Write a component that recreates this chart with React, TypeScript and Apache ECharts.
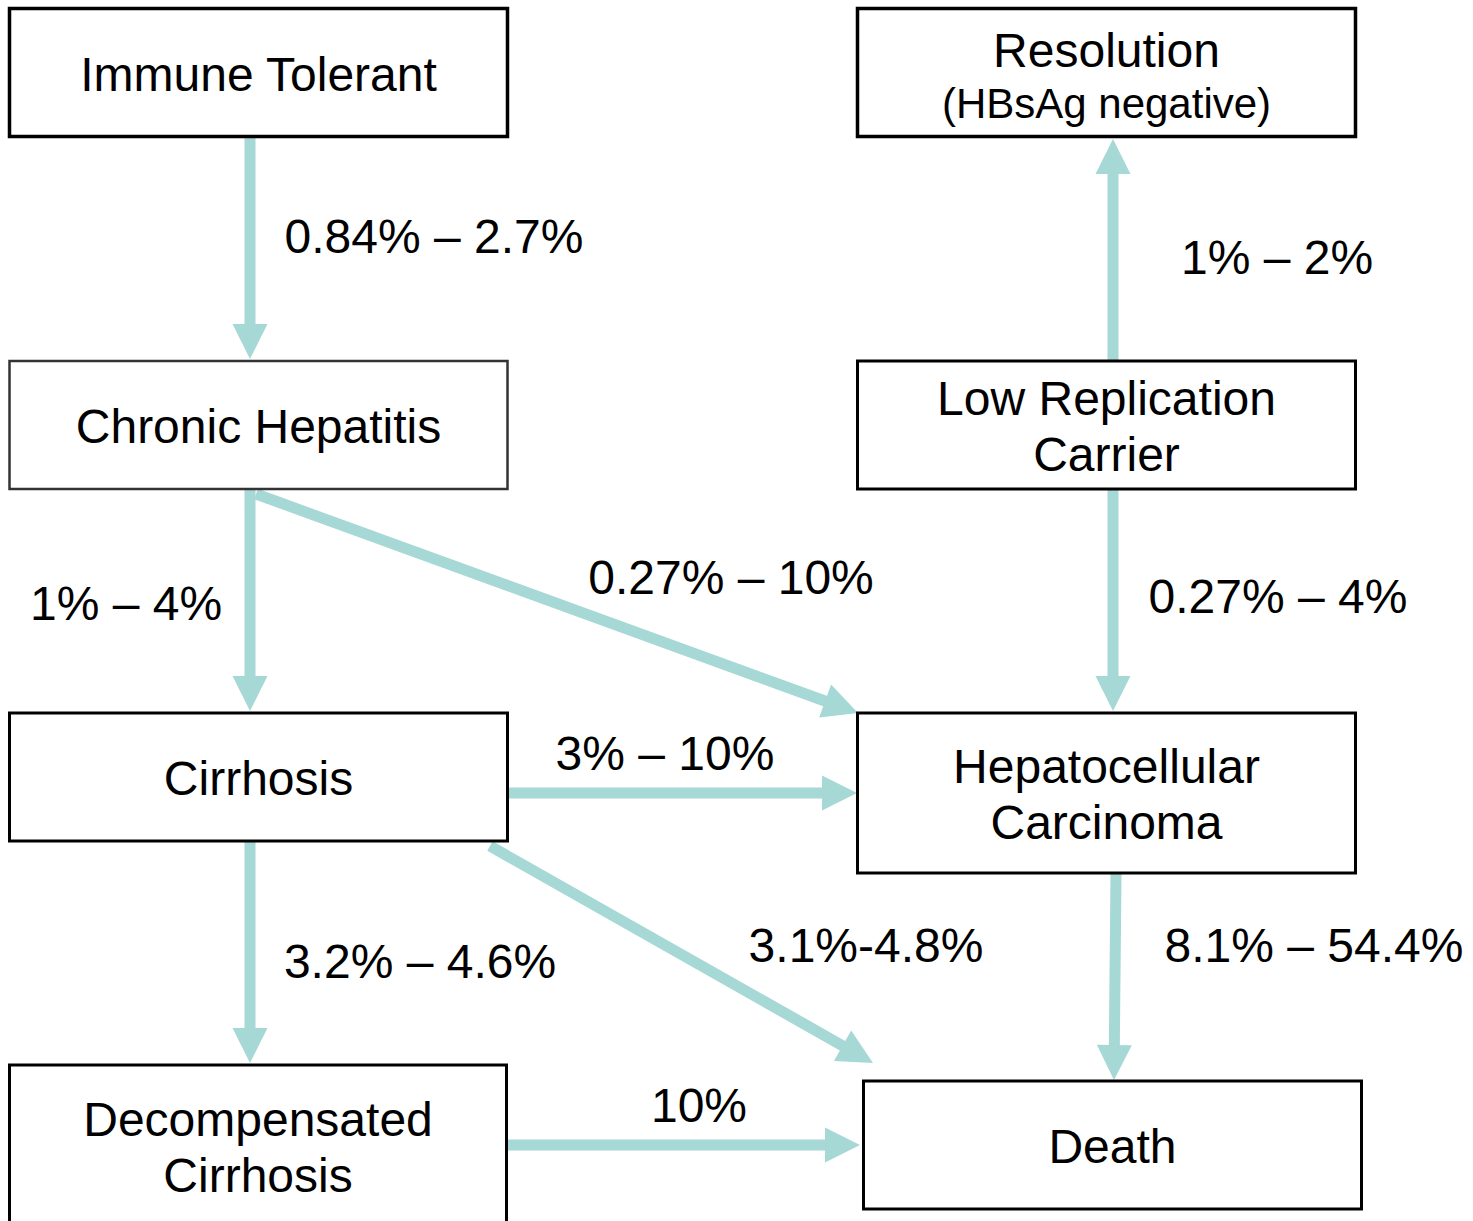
import React, { useEffect, useRef } from "react";
import * as echarts from "echarts";

// ---- Diagram content ----
const stageNames = [
  "Immune Tolerant",
  "Chronic Hepatitis",
  "Cirrhosis",
  "Decompensated\nCirrhosis",
  "Resolution",
  "Low Replication\nCarrier",
  "Hepatocellular\nCarcinoma",
  "Death",
];
const stageSubtitles = ["", "", "", "", "(HBsAg negative)", "", "", ""];

const transitionFrom = [0, 1, 1, 2, 2, 2, 3, 5, 5, 6];
const transitionTo = [1, 2, 6, 3, 6, 7, 7, 4, 6, 7];
const transitionRates = [
  "0.84% – 2.7%",
  "1% – 4%",
  "0.27% – 10%",
  "3.2% – 4.6%",
  "3% – 10%",
  "3.1%-4.8%",
  "10%",
  "1% – 2%",
  "0.27% – 4%",
  "8.1% – 54.4%",
];

// ---- Layout (positions / sizes) ----
const boxLayout: number[][] = [
  [9.5, 8.5, 498, 128],
  [9.5, 361, 498, 128],
  [9.5, 713, 498, 128],
  [9.5, 1065, 497, 220],
  [857.5, 8.5, 498, 128],
  [857.5, 361, 498, 128],
  [857.5, 713, 498, 160],
  [863.5, 1081, 498, 128],
];
const boxBorder = [3.5, 2.5, 3, 3, 3.5, 3, 3, 3];
const boxBorderColor = ["#000", "#333", "#000", "#000", "#000", "#000", "#000", "#000"];

const arrowLayout: number[][] = [
  [250, 138, 250, 359],
  [250, 490, 250, 711],
  [256, 494, 858, 713],
  [250, 842, 250, 1063],
  [508, 793, 857, 793],
  [490, 846, 873, 1063],
  [508, 1145, 860, 1145],
  [1113, 360, 1113, 139],
  [1113, 490, 1113, 711],
  [1116, 874, 1114, 1080],
];
const labelLayout: number[][] = [
  [434, 236],
  [126, 603],
  [731, 577],
  [420, 961],
  [665, 753],
  [866, 945],
  [699, 1105],
  [1277, 257],
  [1278, 596],
  [1314, 945],
];

const ARROW_COLOR = "#a6d8d5";
const FONT = "'Liberation Sans', Arial, Helvetica, sans-serif";
const FS = 48;

function buildElements() {
  const els: any[] = [];
  transitionFrom.forEach((_, i) => {
    const [x1, y1, x2, y2] = arrowLayout[i];
    const dx = x2 - x1;
    const dy = y2 - y1;
    const len = Math.sqrt(dx * dx + dy * dy);
    const ux = dx / len;
    const uy = dy / len;
    const headLen = 35;
    const halfW = 17.5;
    const bx = x2 - ux * headLen;
    const by = y2 - uy * headLen;
    els.push({
      type: "line",
      shape: { x1, y1, x2: bx + ux * 2, y2: by + uy * 2 },
      style: { stroke: ARROW_COLOR, lineWidth: 11 },
      z: 1,
    });
    els.push({
      type: "polygon",
      shape: {
        points: [
          [x2, y2],
          [bx - uy * halfW, by + ux * halfW],
          [bx + uy * halfW, by - ux * halfW],
        ],
      },
      style: { fill: ARROW_COLOR },
      z: 1,
    });
    const [lx, ly] = labelLayout[i];
    els.push({
      type: "text",
      x: lx,
      y: ly,
      z: 3,
      style: {
        text: transitionRates[i],
        fill: "#000",
        font: `${FS}px ${FONT}`,
        align: "center",
        verticalAlign: "middle",
      },
    });
  });

  stageNames.forEach((name, i) => {
    const [x, y, w, h] = boxLayout[i];
    els.push({
      type: "rect",
      shape: { x, y, width: w, height: h },
      style: { fill: "#fff", stroke: boxBorderColor[i], lineWidth: boxBorder[i] },
      z: 2,
    });
    const cx = x + w / 2;
    const sub = stageSubtitles[i];
    let cy = y + h / 2 + 1.5;
    if (i === 3) cy = 1147;
    if (sub) {
      els.push({
        type: "text",
        x: cx,
        y: y + 42,
        z: 3,
        style: {
          text: name,
          fill: "#000",
          font: `${FS}px ${FONT}`,
          align: "center",
          verticalAlign: "middle",
        },
      });
      els.push({
        type: "text",
        x: cx,
        y: y + 95,
        z: 3,
        style: {
          text: sub,
          fill: "#000",
          font: `42px ${FONT}`,
          align: "center",
          verticalAlign: "middle",
        },
      });
    } else {
      els.push({
        type: "text",
        x: cx,
        y: cy,
        z: 3,
        style: {
          text: name,
          fill: "#000",
          font: `${FS}px ${FONT}`,
          lineHeight: 56,
          align: "center",
          verticalAlign: "middle",
        },
      });
    }
  });
  return els;
}

export default function App() {
  const ref = useRef<HTMLDivElement>(null);
  useEffect(() => {
    if (!ref.current) return;
    const chart = echarts.init(ref.current, undefined, { renderer: "svg" });
    chart.setOption({
      animation: false,
      backgroundColor: "#ffffff",
      graphic: { elements: buildElements() },
    });
    return () => chart.dispose();
  }, []);
  return (
    <div
      ref={ref}
      style={{ position: "absolute", left: 0, top: 0, width: 1473, height: 1221 }}
    />
  );
}
